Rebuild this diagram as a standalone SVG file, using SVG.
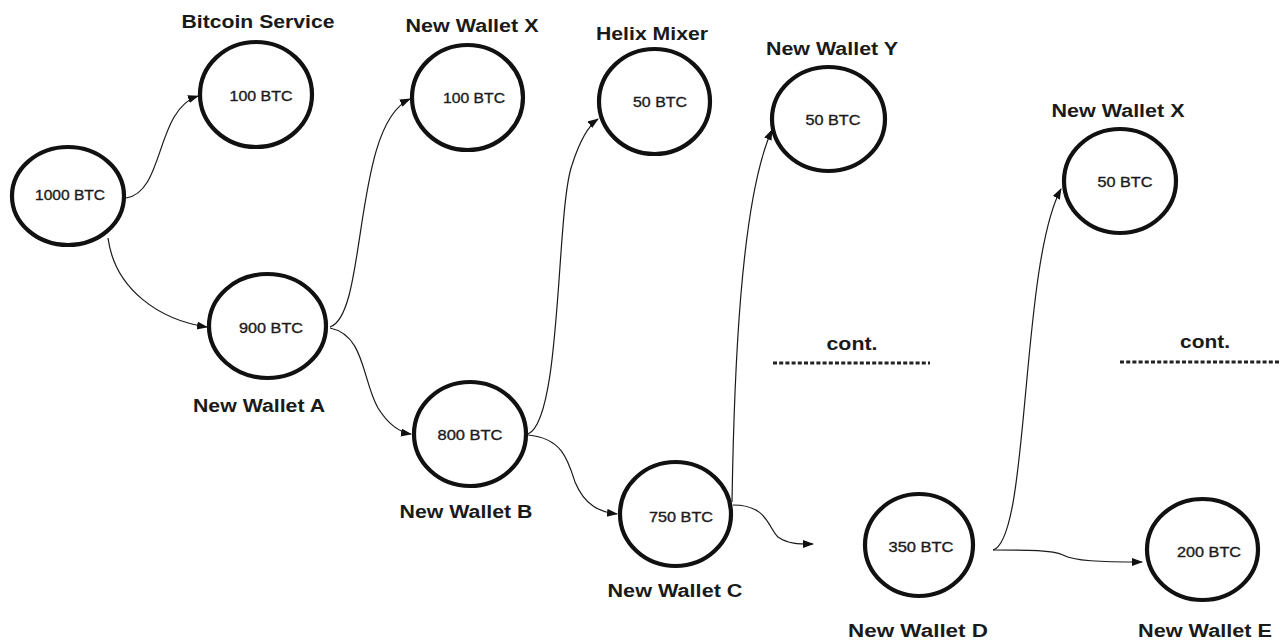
<svg xmlns="http://www.w3.org/2000/svg" width="1284" height="641" viewBox="0 0 1284 641">
<style>
.node{fill:#fff;stroke:#111;stroke-width:4.2}
.in{font-family:"Liberation Sans",Arial,sans-serif;font-size:14px;fill:#1c1c1c;stroke:#1c1c1c;stroke-width:0.35;text-anchor:middle}
.lbl{font-family:"Liberation Sans",Arial,sans-serif;font-size:18px;font-weight:bold;fill:#1a1a1a;text-anchor:middle}
.edge{fill:none;stroke:#1a1a1a;stroke-width:1.2;marker-end:url(#ah)}
.dots{stroke:#222;stroke-width:3;stroke-dasharray:4 2.2}
</style>
<defs>
<marker id="ah" markerUnits="userSpaceOnUse" markerWidth="12" markerHeight="10" refX="10" refY="4" orient="auto">
<path d="M0,0 L11,4 L0,8 Z" fill="#111"/>
</marker>
</defs>
<rect width="1284" height="641" fill="#fff"/>
<g id="connectors">
<path class="edge" d="M126,198 C165,192 155,110 198,96"/>
<path class="edge" d="M108,238 C115,290 160,320 207,327"/>
<path class="edge" d="M330,327 C368,315 352,125 410,99"/>
<path class="edge" d="M330,328 C365,335 362,380 378,408 C388,424 398,432 411,434"/>
<path class="edge" d="M528,434 C562,420 556,210 572,165 C580,140 588,126 598,119"/>
<path class="edge" d="M528,435 C562,438 568,460 575,482 C585,506 600,512 617,514"/>
<path class="edge" d="M732,502 C734,380 740,200 772,130"/>
<path class="edge" d="M733,505 C768,505 768,528 778,537 C788,544 798,544 813,544"/>
<path class="edge" d="M993,550 C1030,540 1020,265 1061,189"/>
<path class="edge" d="M993,550 C1030,550 1052,550 1063,555 C1074,561 1100,562 1142,562"/>
</g>
<g id="n1000"><ellipse class="node" cx="68" cy="196" rx="56" ry="49"/><text class="in" x="70" y="200" textLength="70" lengthAdjust="spacingAndGlyphs">1000 BTC</text></g>
<g id="bitcoin-service"><ellipse class="node" cx="256" cy="94.5" rx="56" ry="52.5"/><text class="in" x="261" y="101" textLength="63" lengthAdjust="spacingAndGlyphs">100 BTC</text><text class="lbl" x="258" y="28" textLength="153" lengthAdjust="spacingAndGlyphs">Bitcoin Service</text></g>
<g id="new-wallet-x1"><ellipse class="node" cx="467.5" cy="97.5" rx="55.5" ry="52.5"/><text class="in" x="474" y="103" textLength="62" lengthAdjust="spacingAndGlyphs">100 BTC</text><text class="lbl" x="472" y="32" textLength="133" lengthAdjust="spacingAndGlyphs">New Wallet X</text></g>
<g id="helix-mixer"><ellipse class="node" cx="654.5" cy="101.5" rx="55.5" ry="52.5"/><text class="in" x="660" y="107" textLength="54" lengthAdjust="spacingAndGlyphs">50 BTC</text><text class="lbl" x="652" y="40" textLength="112" lengthAdjust="spacingAndGlyphs">Helix Mixer</text></g>
<g id="new-wallet-y"><ellipse class="node" cx="828.5" cy="119" rx="56.5" ry="52"/><text class="in" x="833" y="125" textLength="55" lengthAdjust="spacingAndGlyphs">50 BTC</text><text class="lbl" x="832" y="55" textLength="132" lengthAdjust="spacingAndGlyphs">New Wallet Y</text></g>
<g id="new-wallet-x2"><ellipse class="node" cx="1120" cy="181" rx="56" ry="52"/><text class="in" x="1125" y="187" textLength="55" lengthAdjust="spacingAndGlyphs">50 BTC</text><text class="lbl" x="1118" y="117" textLength="133" lengthAdjust="spacingAndGlyphs">New Wallet X</text></g>
<g id="new-wallet-a"><ellipse class="node" cx="267.5" cy="326" rx="58.5" ry="52"/><text class="in" x="271" y="333" textLength="64" lengthAdjust="spacingAndGlyphs">900 BTC</text><text class="lbl" x="259" y="412" textLength="132" lengthAdjust="spacingAndGlyphs">New Wallet A</text></g>
<g id="new-wallet-b"><ellipse class="node" cx="470" cy="434" rx="56" ry="52"/><text class="in" x="470" y="440" textLength="65" lengthAdjust="spacingAndGlyphs">800 BTC</text><text class="lbl" x="466" y="518" textLength="133" lengthAdjust="spacingAndGlyphs">New Wallet B</text></g>
<g id="new-wallet-c"><ellipse class="node" cx="675.5" cy="514" rx="55.5" ry="52"/><text class="in" x="681" y="522" textLength="64" lengthAdjust="spacingAndGlyphs">750 BTC</text><text class="lbl" x="675" y="597" textLength="135" lengthAdjust="spacingAndGlyphs">New Wallet C</text></g>
<g id="new-wallet-d"><ellipse class="node" cx="919" cy="545" rx="54" ry="51"/><text class="in" x="921" y="552" textLength="65" lengthAdjust="spacingAndGlyphs">350 BTC</text><text class="lbl" x="918" y="637" textLength="140" lengthAdjust="spacingAndGlyphs">New Wallet D</text></g>
<g id="new-wallet-e"><ellipse class="node" cx="1202.5" cy="549.5" rx="55.5" ry="50.5"/><text class="in" x="1209" y="557" textLength="64" lengthAdjust="spacingAndGlyphs">200 BTC</text><text class="lbl" x="1205" y="637" textLength="134" lengthAdjust="spacingAndGlyphs">New Wallet E</text></g>
<g id="cont-1"><text class="lbl" x="852" y="350" textLength="51" lengthAdjust="spacingAndGlyphs">cont.</text><line class="dots" x1="773" y1="363" x2="930" y2="363"/></g>
<g id="cont-2"><text class="lbl" x="1205" y="348" textLength="50" lengthAdjust="spacingAndGlyphs">cont.</text><line class="dots" x1="1120" y1="362" x2="1280" y2="362"/></g>
</svg>
